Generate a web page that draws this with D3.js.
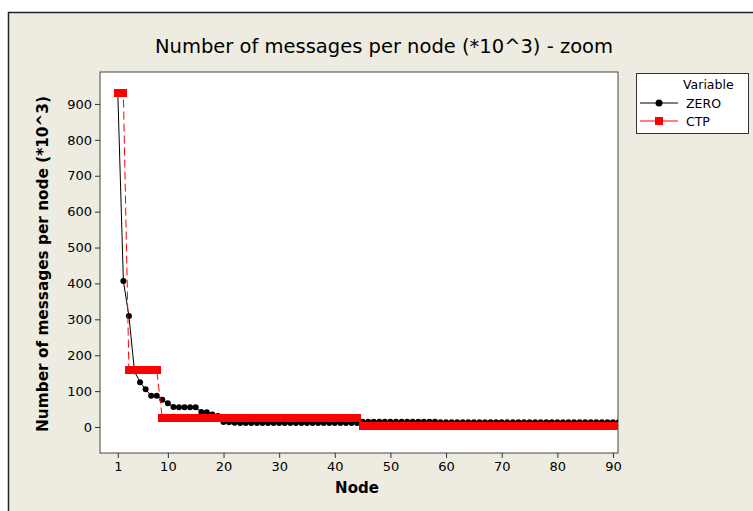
<!DOCTYPE html>
<html>
<head>
<meta charset="utf-8">
<script src="https://cdn.jsdelivr.net/npm/d3@7"></script>
<style>
body{margin:0;background:#fff;}
text{font-family:"DejaVu Sans",sans-serif;fill:#000;}
</style>
</head>
<body>
<div id="chart"></div>
<script>
// nodes 1..91
var nodes = d3.range(1, 92)
// ZERO values (*10^3)
var zeroVals = [930, 407, 309, 155, 125, 105, 87, 87, 76, 66,
    56, 55, 55, 55, 55, 42, 41, 35, 31, 14,
    13, 12, 11, 11, 11, 11, 11, 11, 11, 11,
    11, 11, 11, 11, 11, 11, 11, 11, 11, 11,
    11, 11, 11, 11, 15, 15, 15, 15, 15, 15,
    15, 15, 15, 15, 15, 15, 15, 15, 13, 13,
    13, 13, 13, 13, 13, 13, 13, 13, 13, 13,
    13, 13, 13, 13, 13, 13, 13, 13, 13, 13,
    13, 13, 13, 13, 13, 13, 13, 13, 13, 13, 13]
// CTP values (*10^3)
var ctpVals = [930, 930, 158, 158, 158, 158, 158, 158, 24, 24,
    24, 24, 24, 24, 24, 24, 24, 24, 24, 24,
    24, 24, 24, 24, 24, 24, 24, 24, 24, 24,
    24, 24, 24, 24, 24, 24, 24, 24, 24, 24,
    24, 24, 24, 24, 3, 3, 3, 3, 3, 3,
    3, 3, 3, 3, 3, 3, 3, 3, 3, 3,
    3, 3, 3, 3, 3, 3, 3, 3, 3, 3,
    3, 3, 3, 3, 3, 3, 3, 3, 3, 3,
    3, 3, 3, 3, 3, 3, 3, 3, 3, 3, 3]
var xTicks = [1, 10, 20, 30, 40, 50, 60, 70, 80, 90]
var yTicks = [0, 100, 200, 300, 400, 500, 600, 700, 800, 900]
var seriesNames = ["ZERO", "CTP"]

var width = 753, height = 511
var svg = d3.select("#chart").append("svg").attr("width", width).attr("height", height)

// outer panel
svg.append("rect").attr("x", 8.5).attr("y", 12.5).attr("width", 760).attr("height", 520)
    .attr("fill", "#eeebe0").attr("stroke", "#222").attr("stroke-width", 1.5)

var pLeft = 100, pRight = 618, pTop = 72, pBottom = 453
var xScale = d3.scaleLinear().domain([-2.2, 90.9]).range([pLeft, pRight])
var yScale = d3.scaleLinear().domain([-72.4, 989]).range([pBottom, pTop])

svg.append("rect").attr("x", pLeft).attr("y", pTop).attr("width", pRight - pLeft).attr("height", pBottom - pTop)
    .attr("fill", "#fff").attr("stroke", "#444").attr("stroke-width", 1)

var clip = svg.append("clipPath").attr("id", "plotclip")
clip.append("rect").attr("x", pLeft).attr("y", pTop).attr("width", pRight - pLeft).attr("height", pBottom - pTop)

var xAxis = d3.axisBottom(xScale).tickValues(xTicks).tickSize(5).tickPadding(4)
svg.append("g").attr("class", "axis").attr("transform", "translate(0," + pBottom + ")").call(xAxis)
var yAxis = d3.axisLeft(yScale).tickValues(yTicks).tickSize(5).tickPadding(3)
svg.append("g").attr("class", "axis").attr("transform", "translate(" + pLeft + ",0)").call(yAxis)
svg.selectAll(".axis .domain").remove()
svg.selectAll(".axis line").attr("stroke", "#333")
svg.selectAll(".axis text").style("font-size", "13px").style("font-family", "'DejaVu Sans',sans-serif")

var zero = nodes.map(function(n, i){ return {x: n, y: zeroVals[i]} })
var ctp = nodes.map(function(n, i){ return {x: n, y: ctpVals[i]} })

var line = d3.line().x(function(d){ return xScale(d.x) }).y(function(d){ return yScale(d.y) })
var g = svg.append("g").attr("clip-path", "url(#plotclip)")

g.append("path").datum(zero).attr("d", line).attr("fill", "none").attr("stroke", "#000").attr("stroke-width", 1)
g.selectAll("circle.zero").data(zero).enter().append("circle").attr("class", "zero")
    .attr("cx", function(d){ return xScale(d.x) })
    .attr("cy", function(d){ return yScale(d.y) })
    .attr("r", 3).attr("fill", "#000")

g.append("path").datum(ctp).attr("d", line).attr("fill", "none").attr("stroke", "#ff0000")
    .attr("stroke-width", 1).attr("stroke-dasharray", "8,4")
g.selectAll("rect.ctp").data(ctp).enter().append("rect").attr("class", "ctp")
    .attr("x", function(d){ return xScale(d.x) - 4 })
    .attr("y", function(d){ return yScale(d.y) - 4 })
    .attr("width", 8).attr("height", 8).attr("fill", "#ff0000")
    .attr("shape-rendering", "crispEdges")

// titles
svg.append("text").text("Number of messages per node (*10^3) - zoom")
    .attr("x", 384).attr("y", 53).attr("text-anchor", "middle").style("font-size", "19.5px")
svg.append("text").text("Node")
    .attr("x", 357).attr("y", 493).attr("text-anchor", "middle").style("font-size", "15px").style("font-weight", "bold")
svg.append("text").text("Number of messages per node (*10^3)")
    .attr("transform", "translate(48,264) rotate(-90)").attr("text-anchor", "middle")
    .style("font-size", "15.3px").style("font-weight", "bold")

// legend
var lg = svg.append("g")
lg.append("rect").attr("x", 636.5).attr("y", 73.5).attr("width", 112).attr("height", 60)
    .attr("fill", "#fff").attr("stroke", "#333")
lg.append("text").text("Variable").attr("x", 683).attr("y", 89).style("font-size", "12.5px")
var colors = ["#000", "#ff0000"]
seriesNames.forEach(function(name, i){
    var yy = 103 + i * 18
    lg.append("line").attr("x1", 640).attr("x2", 678).attr("y1", yy).attr("y2", yy)
        .attr("stroke", colors[i]).attr("stroke-width", 1)
    if(i == 0){
        lg.append("circle").attr("cx", 659).attr("cy", yy).attr("r", 3.5).attr("fill", "#000")
    } else {
        lg.append("rect").attr("x", 655).attr("y", yy - 4).attr("width", 8).attr("height", 8).attr("fill", "#ff0000")
    }
    lg.append("text").text(name).attr("x", 686).attr("y", yy + 4.5).style("font-size", "12.5px")
})
</script>
</body>
</html>
